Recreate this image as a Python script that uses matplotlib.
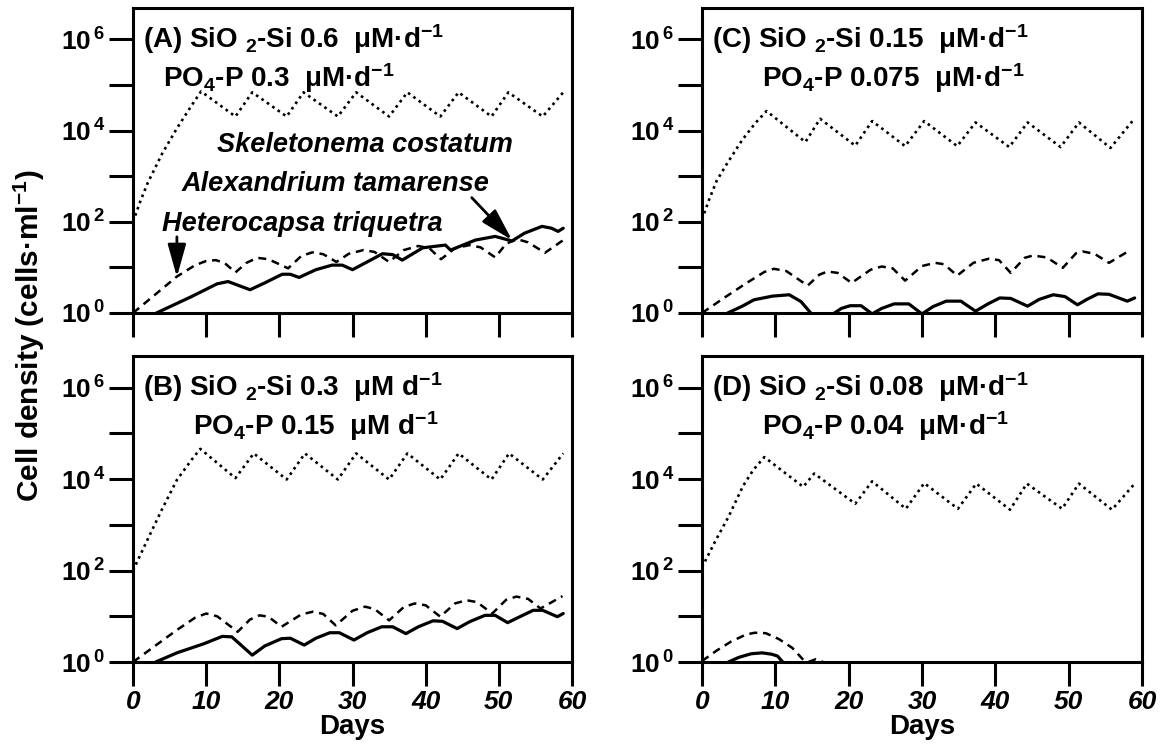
import numpy as np
import matplotlib
matplotlib.use('Agg')
import matplotlib.pyplot as plt

plt.rcParams['font.family'] = ['Liberation Sans', 'DejaVu Sans']
plt.rcParams['font.weight'] = 'bold'
plt.rcParams['mathtext.fontset'] = 'custom'
plt.rcParams['mathtext.rm'] = 'Liberation Sans:bold'
plt.rcParams['mathtext.it'] = 'Liberation Sans:italic:bold'
plt.rcParams['mathtext.bf'] = 'Liberation Sans:bold'

# values: day, log10(cells/ml)
# (A) SiO2-Si 0.6, PO4-P 0.3
a_skel_day = [0, 1, 2, 4, 6, 8, 9.3, 14, 16.3, 21, 23.3, 28, 30.5, 35, 37.5, 42, 44.5, 49, 51.3, 56, 58.8]
a_skel_log = [2.0, 2.45, 2.85, 3.5, 4.05, 4.55, 4.86, 4.31, 4.84, 4.31, 4.84, 4.31, 4.84, 4.31, 4.84,
              4.31, 4.84, 4.31, 4.84, 4.31, 4.84]
a_hete_day = [0, 3, 6, 8.5, 10, 11.3, 12.5, 14, 15.5, 17, 18.5, 21.2, 23, 24.5, 26, 27.8, 29.5, 31.5,
              33, 35, 37, 39, 40.5, 42.1, 44, 46, 47.5, 49.5, 51, 52.5, 54, 56.3, 59]
a_hete_log = [0, 0.4, 0.8, 1.05, 1.14, 1.16, 1.10, 0.89, 1.10, 1.21, 1.18, 0.98, 1.25, 1.33, 1.29,
              1.12, 1.30, 1.38, 1.34, 1.12, 1.38, 1.47, 1.42, 1.18, 1.42, 1.49, 1.44, 1.22, 1.52,
              1.62, 1.55, 1.32, 1.62]
a_alex_day = [0, 3.2, 8, 11.5, 13, 16, 18, 20.4, 21.5, 22.7, 25, 27.2, 28.6, 30, 32, 34.1, 35.5,
              36.8, 39.6, 42.7, 43.4, 46.8, 49.5, 51.8, 53.5, 55.9, 57.2, 58.1, 58.8]
a_alex_log = [-0.5, 0.0, 0.36, 0.64, 0.69, 0.51, 0.66, 0.85, 0.85, 0.78, 0.95, 1.05, 1.05, 0.95,
              1.12, 1.30, 1.28, 1.16, 1.43, 1.49, 1.38, 1.60, 1.68, 1.58, 1.75, 1.90, 1.86, 1.79, 1.86]

# (B) SiO2-Si 0.3, PO4-P 0.15
b_skel_day = [0, 2, 4, 6, 8, 9.2, 14, 16.5, 21, 23.5, 28, 30.5, 35, 37.5, 42, 44.5, 49, 51.4, 56, 58.8]
b_skel_log = [2.0, 2.68, 3.35, 3.98, 4.42, 4.66, 4.02, 4.56, 3.99, 4.56, 3.99, 4.56, 3.99, 4.56,
              3.99, 4.56, 3.99, 4.56, 3.99, 4.56]
b_hete_day = [0, 3, 6, 8.5, 10, 11.5, 14.3, 16, 17.3, 18.5, 20.3, 23, 24.6, 26, 27.7, 30, 31.7, 33,
              35, 37, 38.5, 40, 42, 44, 45.6, 47, 49.1, 51, 52.4, 54, 55.7, 58.7]
b_hete_log = [0, 0.35, 0.7, 0.97, 1.06, 1.0, 0.66, 0.93, 1.02, 0.99, 0.77, 1.04, 1.10, 1.05, 0.80,
              1.12, 1.21, 1.16, 0.91, 1.20, 1.28, 1.24, 0.99, 1.28, 1.35, 1.31, 1.06, 1.36, 1.43,
              1.38, 1.17, 1.44]
b_alex_day = [0, 3.1, 6, 9.7, 12.2, 13.5, 16.3, 18, 20.3, 21.5, 23.4, 25, 26.9, 28.2, 30.2, 32, 34,
              35.5, 37.3, 39, 41, 42.3, 44.3, 46, 48.1, 49.5, 51.2, 53, 54.7, 56, 58, 58.8]
b_alex_log = [-0.5, 0, 0.2, 0.40, 0.56, 0.55, 0.15, 0.35, 0.51, 0.52, 0.37, 0.52, 0.64, 0.64, 0.48,
              0.64, 0.77, 0.77, 0.62, 0.77, 0.90, 0.89, 0.73, 0.88, 1.02, 1.02, 0.86, 1.0, 1.13,
              1.13, 0.99, 1.06]

# (C) SiO2-Si 0.15, PO4-P 0.075
c_skel_day = [0, 1, 2, 3.5, 5.5, 7.3, 8.8, 14.1, 16.1, 20.9, 23.2, 27.7, 30.3, 34.8, 37.3, 41.9,
              44.4, 48.9, 51.4, 55.7, 58.7]
c_skel_log = [2.05, 2.5, 2.9, 3.3, 3.8, 4.17, 4.43, 3.75, 4.26, 3.67, 4.21, 3.66, 4.21, 3.66, 4.18,
              3.64, 4.18, 3.64, 4.18, 3.62, 4.21]
c_hete_day = [0, 3, 6, 8.5, 9.8, 11.5, 14.4, 16, 17.1, 18.5, 20.4, 23, 24.5, 26, 27.7, 30, 31.8, 33,
              34.8, 37, 39.1, 40.5, 42.1, 44, 45.1, 47, 49.2, 51, 51.9, 53.5, 55.5, 58.5]
c_hete_log = [0, 0.33, 0.65, 0.9, 0.97, 0.92, 0.60, 0.84, 0.91, 0.88, 0.66, 0.95, 1.02, 0.98, 0.71,
              1.03, 1.10, 1.07, 0.82, 1.10, 1.19, 1.16, 0.88, 1.21, 1.26, 1.22, 0.99, 1.31, 1.35,
              1.30, 1.10, 1.39]
c_alex_day = [0, 3.5, 5.5, 7.1, 9.6, 11.9, 13.5, 15.1, 17.6, 19, 20.2, 21.7, 23.2, 24.5, 26.2, 28.2,
              30, 31.5, 33.3, 35.3, 37.3, 39, 40.6, 42.1, 44.4, 46, 47.9, 49.5, 51.2, 52.5, 54, 55.5,
              58, 59]
c_alex_log = [-0.5, 0, 0.15, 0.29, 0.37, 0.40, 0.25, -0.05, -0.05, 0.1, 0.16, 0.16, -0.02, 0.1, 0.2,
              0.2, -0.02, 0.14, 0.26, 0.26, 0.04, 0.2, 0.33, 0.32, 0.15, 0.3, 0.40, 0.36, 0.18, 0.3,
              0.42, 0.41, 0.26, 0.33]

# (D) SiO2-Si 0.08, PO4-P 0.04
d_skel_day = [0, 2, 3.6, 5.6, 7, 8.5, 13.8, 15.3, 20.9, 23.2, 27.8, 30.3, 34.9, 37.4, 42, 44.3, 49.1,
              51.4, 55.9, 59]
d_skel_log = [2.07, 2.7, 3.17, 3.85, 4.2, 4.48, 3.83, 4.12, 3.46, 3.95, 3.35, 3.91, 3.35, 3.90,
              3.33, 3.90, 3.35, 3.90, 3.33, 3.90]
d_hete_day = [0, 2, 4, 6, 7.2, 8.7, 10.5, 12.3, 13.8, 14.5, 15.5, 16.5, 17.5]
d_hete_log = [0.02, 0.25, 0.45, 0.6, 0.64, 0.63, 0.5, 0.31, 0.05, 0.0, 0.06, 0.0, -0.3]
d_alex_day = [0, 3.6, 5, 6.7, 8.2, 9.5, 10.3, 11, 12]
d_alex_log = [-0.5, 0, 0.1, 0.18, 0.2, 0.17, 0.13, 0, -0.3]

panel_titles = [
    ('(A) SiO $_{2}$-Si 0.6  μM·d$^{-1}$', 'PO$_{4}$-P 0.3  μM·d$^{-1}$'),
    ('(B) SiO $_{2}$-Si 0.3  μM d$^{-1}$', 'PO$_{4}$-P 0.15  μM d$^{-1}$'),
    ('(C) SiO $_{2}$-Si 0.15  μM·d$^{-1}$', 'PO$_{4}$-P 0.075  μM·d$^{-1}$'),
    ('(D) SiO $_{2}$-Si 0.08  μM·d$^{-1}$', 'PO$_{4}$-P 0.04  μM·d$^{-1}$'),
]
panels = [
    (a_skel_day, a_skel_log, a_hete_day, a_hete_log, a_alex_day, a_alex_log),
    (b_skel_day, b_skel_log, b_hete_day, b_hete_log, b_alex_day, b_alex_log),
    (c_skel_day, c_skel_log, c_hete_day, c_hete_log, c_alex_day, c_alex_log),
    (d_skel_day, d_skel_log, d_hete_day, d_hete_log, d_alex_day, d_alex_log),
]
day_ticks = [0, 10, 20, 30, 40, 50, 60]

W, H = 1163, 746
fig = plt.figure(figsize=(W / 100, H / 100), dpi=100)

# axes boxes in pixels: left, top, right, bottom
boxes = [(133, 8, 572, 313), (133, 356, 572, 662), (702, 8, 1142, 313), (702, 356, 1142, 662)]
indent2 = [30, 60, 60, 60]

axes = []
for i, (l, t, r, b) in enumerate(boxes):
    ax = fig.add_axes([l / W, 1 - b / H, (r - l) / W, (b - t) / H])
    sd, sl, hd, hl, ad, al = panels[i]
    ax.plot(sd, 10 ** np.array(sl), color='black', lw=1.9, ls=(0, (1, 1.5)))
    ax.plot(hd, 10 ** np.array(hl), color='black', lw=1.8, ls=(0, (3.2, 2.3)))
    ax.plot(ad, 10 ** np.array(al), color='black', lw=2.3, solid_capstyle='round')

    ax.set_yscale('log')
    ax.set_xlim(0, 60)
    ax.set_ylim(1, 10 ** 6.69)
    ax.set_yticks([1, 1e2, 1e4, 1e6])
    ax.set_yticklabels([r'$10^{\,0}$', r'$10^{\,2}$', r'$10^{\,4}$', r'$10^{\,6}$'])
    ax.set_yticks([1e1, 1e3, 1e5], minor=True)
    ax.set_yticklabels([], minor=True)
    ax.set_xticks(day_ticks)
    ax.tick_params(axis='both', which='both', direction='out', length=17, width=2.2,
                   labelsize=19, pad=3)
    for s in ax.spines.values():
        s.set_linewidth(2.2)

    if i in (1, 3):
        ax.set_xticklabels([str(d) for d in day_ticks])
        for lab in ax.get_xticklabels():
            lab.set_fontstyle('italic')
            lab.set_fontsize(19)
        fig.text((l + r) / 2 / W, 1 - 727 / H, 'Days', fontsize=20, fontweight='bold',
                 ha='center', va='center')
    else:
        ax.set_xticklabels([])

    # panel captions
    fig.text((l + 10) / W, 1 - (t + 40) / H, panel_titles[i][0], fontsize=20,
             fontweight='bold', va='baseline')
    fig.text((l + indent2[i]) / W, 1 - (t + 79) / H, panel_titles[i][1], fontsize=20,
             fontweight='bold', va='baseline')
    axes.append(ax)

# species names and arrows in panel A
ax = axes[0]
fig.text(217 / W, 1 - 152 / H, 'Skeletonema costatum', fontsize=19.5, fontweight='bold',
         fontstyle='italic', va='baseline')
fig.text(182 / W, 1 - 191 / H, 'Alexandrium tamarense', fontsize=19.5, fontweight='bold',
         fontstyle='italic', va='baseline')
fig.text(162 / W, 1 - 231 / H, 'Heterocapsa triquetra', fontsize=19.5, fontweight='bold',
         fontstyle='italic', va='baseline')
ax.annotate('', xy=(6.0, 10 ** 0.79), xytext=(6.0, 10 ** 1.67),
            arrowprops=dict(arrowstyle='-|>,head_length=1.0,head_width=0.28', lw=2,
                            color='black', mutation_scale=20, shrinkA=0, shrinkB=0))
ax.annotate('', xy=(51.8, 10 ** 1.6), xytext=(46.3, 10 ** 2.53),
            arrowprops=dict(arrowstyle='-|>,head_length=1.0,head_width=0.28', lw=2,
                            color='black', mutation_scale=20, shrinkA=0, shrinkB=0))

fig.text(0.025, 0.55, 'Cell density (cells·ml$^{-1}$)', rotation=90, fontsize=21.5,
         fontweight='bold', ha='center', va='center')

fig.savefig('out.png', dpi=100)
